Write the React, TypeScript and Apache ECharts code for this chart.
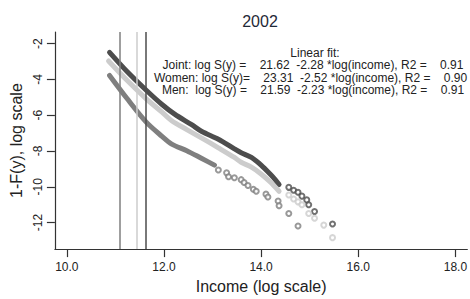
import React, { useEffect, useRef } from "react";
import * as echarts from "echarts";

// ---- data ----
const groups = ["Joint", "Women", "Men"];

// dense part of each empirical tail (log income, log 1-F)
const jointCurve: [number, number][] = [
  [10.88, -2.49], [11.24, -3.56], [11.63, -4.59], [11.96, -5.4], [12.22, -5.94],
  [12.57, -6.53], [12.78, -6.91], [13.12, -7.34], [13.45, -7.88], [13.59, -8.1],
  [13.8, -8.36], [14.0, -8.79], [14.2, -9.33], [14.29, -9.6], [14.37, -9.87],
];
const womenCurve: [number, number][] = [
  [10.86, -2.97], [11.24, -4.05], [11.63, -5.07], [11.96, -5.83], [12.16, -6.31],
  [12.47, -6.8], [12.78, -7.28], [13.12, -7.82], [13.45, -8.36], [13.59, -8.63],
  [13.8, -8.9], [14.0, -9.28], [14.2, -9.76], [14.37, -10.25],
];
const menCurve: [number, number][] = [
  [10.88, -3.78], [11.24, -5.07], [11.63, -6.37], [11.96, -7.18], [12.16, -7.61],
  [12.47, -7.98], [12.78, -8.42], [13.04, -8.79],
];

// sparse upper-tail observations
const jointTail: [number, number][] = [
  [14.57, -10.03], [14.67, -10.19], [14.76, -10.3], [14.84, -10.52],
  [14.94, -10.73], [14.98, -11.0], [15.1, -11.38], [15.47, -12.08],
];
const womenTail: [number, number][] = [
  [14.57, -10.46], [14.67, -10.68], [14.76, -10.84], [14.84, -11.0],
  [14.98, -11.49], [15.1, -11.76], [15.29, -12.14], [15.47, -12.84],
];
const menTail: [number, number][] = [
  [13.12, -9.06], [13.29, -9.22], [13.33, -9.44], [13.45, -9.49], [13.59, -9.6],
  [13.65, -9.76], [13.73, -9.93], [13.84, -10.14], [13.9, -10.25], [14.1, -10.41],
  [14.14, -10.57], [14.35, -10.79], [14.37, -11.06], [14.57, -11.49], [14.76, -12.19],
];

// vertical reference lines (log income): Men, Women, Joint
const thresholds = [11.1, 11.43, 11.63];

// linear fit results
const fitPrefix = ["Joint: log S(y) =", "Women: log S(y)=", "Men:  log S(y) ="];
const intercepts = [21.62, 23.31, 21.59];
const slopes = [-2.28, -2.52, -2.23];
const r2 = [0.91, 0.9, 0.91];

const xTicks = [10, 12, 14, 16, 18];
const yTicks = [-2, -4, -6, -8, -10, -12];
const title = "2002";

// ---- styles ----
const colors = { Joint: "#4d4d4d", Women: "#cccccc", Men: "#7f7f7f" } as Record<string, string>;
const thresholdColors = ["#7f7f7f", "#cccccc", "#4d4d4d"];
const FONT = '"Liberation Sans", Arial, sans-serif';
const TXT = "#222222";

export default function App() {
  const ref = useRef<HTMLDivElement>(null);
  useEffect(() => {
    if (!ref.current) return;
    const chart = echarts.init(ref.current, null, { renderer: "svg" });

    const curves = [jointCurve, womenCurve, menCurve];
    const tails = [jointTail, womenTail, menTail];

    const series: any[] = [];
    groups.forEach((g, i) => {
      series.push({
        type: "line",
        name: g + " curve",
        data: curves[i],
        showSymbol: false,
        smooth: 0.3,
        lineStyle: { color: colors[g], width: 5, cap: "round", join: "round" },
        z: 3,
        silent: true,
      });
      series.push({
        type: "scatter",
        name: g,
        data: tails[i],
        symbol: "emptyCircle",
        symbolSize: 5,
        itemStyle: { color: colors[g], borderColor: colors[g], borderWidth: 1.4 },
        z: 4,
        silent: true,
      });
    });
    series.push({
      type: "line",
      name: "thresholds",
      data: [],
      markLine: {
        silent: true,
        symbol: ["none", "none"],
        label: { show: false },
        data: thresholds.map((t, i) => ({
          xAxis: t,
          lineStyle: { color: thresholdColors[i], width: 1.5, type: "solid" },
        })),
      },
      z: 2,
    });

    const fitLines = groups.map(
      (_, i) =>
        `${fitPrefix[i]}    ${intercepts[i].toFixed(2)}  ${slopes[i].toFixed(2)} *log(income), R2 =    ${r2[i].toFixed(2)}`
    );
    const fitX = [313, 310.5, 313];
    const fitY = [65.3, 77.8, 90.3];

    const fitStyle = (text: string) => ({
      text,
      font: `12px ${FONT}`,
      fill: TXT,
      align: "center",
      verticalAlign: "middle",
    });

    chart.setOption({
      animation: false,
      backgroundColor: "#ffffff",
      grid: { left: 52, top: 32, right: 2, bottom: 42, containLabel: false },
      xAxis: {
        type: "value",
        min: 9.755,
        max: 18.245,
        name: "Income (log scale)",
        nameLocation: "middle",
        nameGap: 25,
        nameTextStyle: { fontFamily: FONT, fontSize: 16, color: TXT },
        axisLine: { show: true, lineStyle: { color: "#333", width: 1.2 } },
        axisTick: { show: true, length: 8, customValues: xTicks, lineStyle: { color: "#333", width: 1.2 } },
        axisLabel: {
          customValues: xTicks,
          formatter: (v: number) => v.toFixed(1),
          margin: 12,
          fontFamily: FONT,
          fontSize: 12,
          color: TXT,
        },
        splitLine: { show: false },
      },
      yAxis: {
        type: "value",
        min: -13.48,
        max: -1.35,
        name: "1-F(y), log scale",
        nameLocation: "middle",
        nameRotate: 90,
        nameGap: 26,
        nameTextStyle: { fontFamily: FONT, fontSize: 16, color: TXT },
        axisLine: { show: true, lineStyle: { color: "#333", width: 1.2 } },
        axisTick: { show: true, length: 8, customValues: yTicks, lineStyle: { color: "#333", width: 1.2 } },
        axisLabel: {
          customValues: yTicks,
          formatter: (v: number) => String(v),
          rotate: 90,
          margin: 11,
          fontFamily: FONT,
          fontSize: 12,
          color: TXT,
        },
        splitLine: { show: false },
      },
      graphic: [
        {
          type: "text",
          x: 260,
          y: 21,
          style: { text: title, font: `16px ${FONT}`, fill: "#1f2937", align: "center", verticalAlign: "middle" },
        },
        { type: "text", x: 315, y: 52.8, style: fitStyle("Linear fit:") },
        ...fitLines.map((t, i) => ({
          type: "text",
          x: fitX[i],
          y: fitY[i],
          style: fitStyle(t),
        })),
      ],
      series,
    });
    return () => chart.dispose();
  }, []);
  return <div ref={ref} style={{ position: "fixed", left: 0, top: 0, width: 470, height: 299, background: "#fff" }} />;
}
